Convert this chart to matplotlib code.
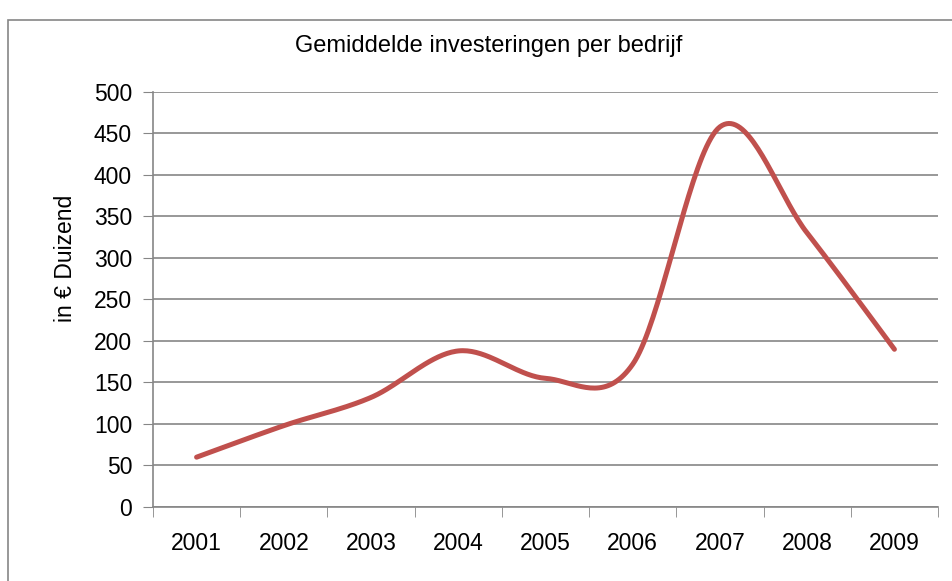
import numpy as np
import matplotlib.pyplot as plt
from matplotlib.patches import Rectangle

# data
years = ['2001', '2002', '2003', '2004', '2005', '2006', '2007', '2008', '2009']
values = [60, 98, 132, 188, 155, 172, 458, 330, 190]

plt.rcParams['font.family'] = ['Liberation Sans', 'DejaVu Sans']


# Excel-style smoothed line: Catmull-Rom through the points
def smooth(xs, ys, n=40):
    xs = np.asarray(xs, float)
    ys = np.asarray(ys, float)
    px = np.concatenate([[xs[0]], xs, [xs[-1]]])
    py = np.concatenate([[ys[0]], ys, [ys[-1]]])
    outx, outy = [], []
    for i in range(1, len(px) - 2):
        t = np.linspace(0, 1, n)
        p0, p1, p2, p3 = (np.array([px[j], py[j]]) for j in range(i - 1, i + 3))
        c1 = p1 + (p2 - p0) / 6.0
        c2 = p2 - (p3 - p1) / 6.0
        b = ((1 - t) ** 3)[:, None] * p1 + (3 * (1 - t) ** 2 * t)[:, None] * c1 \
            + (3 * (1 - t) * t ** 2)[:, None] * c2 + (t ** 3)[:, None] * p2
        outx.extend(b[:, 0])
        outy.extend(b[:, 1])
    return outx, outy


fig = plt.figure(figsize=(9.53, 5.81), dpi=100)
ax = fig.add_axes([0.1605, 0.1274, 0.8238, 0.7143])

grey = '#868686'
x = np.arange(1, len(years) + 1)
sx, sy = smooth(x, values)
ax.plot(sx, sy, color='#C0504D', lw=3.6, solid_capstyle='round', zorder=3)

ax.set_xlim(0.5, len(years) + 0.5)
ax.set_ylim(0, 500)
ax.set_yticks(range(0, 501, 50))
ax.set_xticks(x)
ax.set_xticklabels(years)
ax.set_xticks(np.arange(0.5, len(years) + 1), minor=True)
ax.tick_params(axis='x', which='major', length=0, pad=18, labelsize=16.5)
ax.tick_params(axis='x', which='minor', length=7, color=grey, direction='out')
ax.tick_params(axis='y', length=7, color=grey, direction='out', pad=8, labelsize=16.5)
ax.grid(axis='y', color=grey, lw=1.2)
ax.set_axisbelow(True)

for s in ['top', 'right']:
    ax.spines[s].set_visible(False)
for s in ['left', 'bottom']:
    ax.spines[s].set_color(grey)
    ax.spines[s].set_linewidth(1.2)

ax.set_ylabel('in € Duizend', fontsize=16.5)
ax.yaxis.set_label_coords(-0.097, 0.6)
fig.text(0.513, 0.921, 'Gemiddelde investeringen per bedrijf', ha='center', va='center', fontsize=17)

fig.patches.append(Rectangle((0.008, -0.1), 1.2, 1.065, transform=fig.transFigure,
                             fill=False, edgecolor=grey, lw=1.2))

fig.savefig('out.png', dpi=100)
